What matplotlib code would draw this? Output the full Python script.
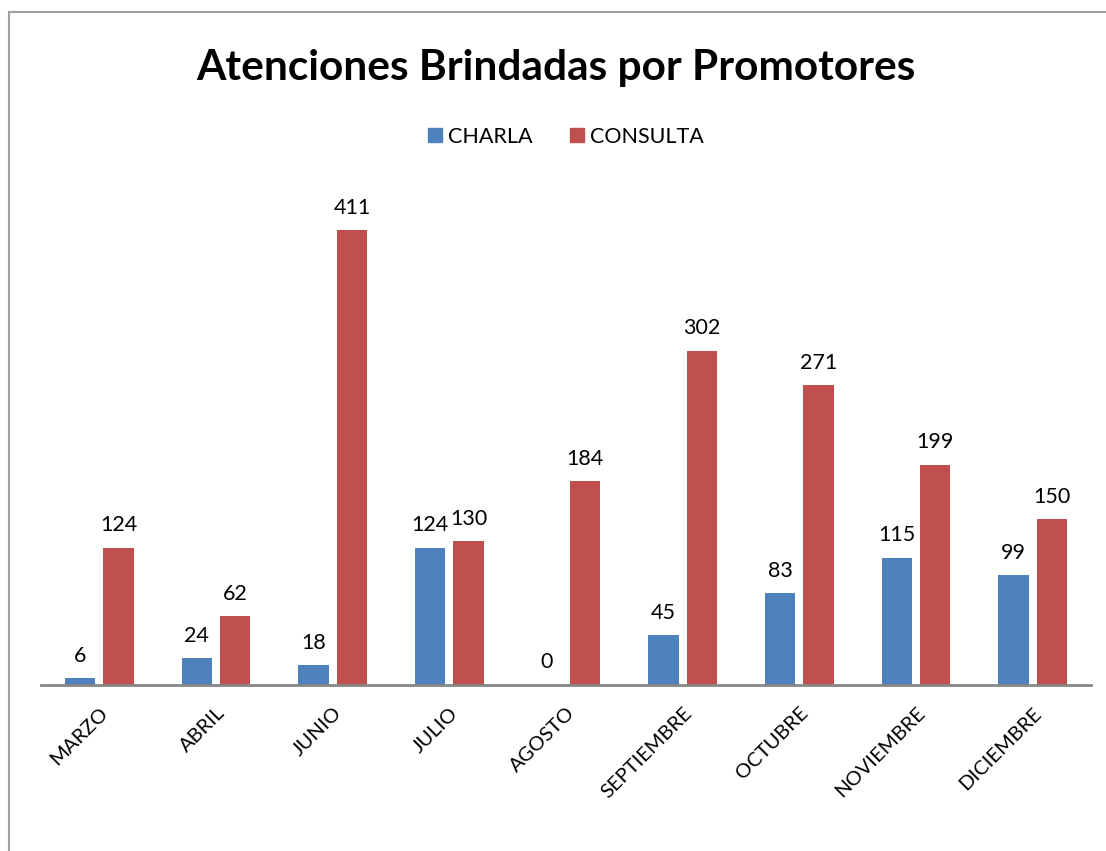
import matplotlib
matplotlib.use("Agg")
import matplotlib.pyplot as plt
from matplotlib.lines import Line2D
import numpy as np

categories = ["MARZO", "ABRIL", "JUNIO", "JULIO", "AGOSTO", "SEPTIEMBRE", "OCTUBRE", "NOVIEMBRE", "DICIEMBRE"]
charla = [6, 24, 18, 124, 0, 45, 83, 115, 99]
consulta = [124, 62, 411, 130, 184, 302, 271, 199, 150]
series_names = ["CHARLA", "CONSULTA"]
title = "Atenciones Brindadas por Promotores"

blue = "#4F81BD"
red = "#C0504D"
font = ["Lato", "DejaVu Sans"]
plt.rcParams['font.family'] = font

W, H = 1106, 851
fig = plt.figure(figsize=(W/100, H/100), dpi=100)
ax = fig.add_axes([41/W, 1-685/H, (1091-41)/W, (685-187)/H])

x = np.arange(len(categories))
bw = 0.26
gap = 0.035
b1 = ax.bar(x - bw/2 - gap, charla, bw, color=blue, label=series_names[0])
b2 = ax.bar(x + bw/2 + gap, consulta, bw, color=red, label=series_names[1])

for bars, vals in ((b1, charla), (b2, consulta)):
    for r, v in zip(bars, vals):
        ax.annotate(str(v), (r.get_x() + r.get_width()/2, v), xytext=(0, 9),
                    textcoords="offset points", ha="center", va="bottom", fontsize=15.5)

ax.set_xlim(-0.5, len(categories) - 0.5)
ax.set_ylim(0, 450)
ax.set_yticks([])
for s in ("top", "right", "left"):
    ax.spines[s].set_visible(False)
ax.spines["bottom"].set_color("#868686")
ax.spines["bottom"].set_linewidth(2)
ax.set_xticks(x)
ax.tick_params(axis="x", length=0, pad=14)
ax.set_xticklabels(categories, rotation=45, ha="right", va="top",
                   rotation_mode="anchor", fontsize=14.5)

fig.text(556/W, 1-68/H, title, ha="center", va="center", fontsize=30.5, fontweight="bold")

handles = [Line2D([], [], marker="s", linestyle="none", markersize=10.5, color=blue),
           Line2D([], [], marker="s", linestyle="none", markersize=10.5, color=red)]
fig.legend(handles, series_names, loc="center", bbox_to_anchor=(565/W, 1-137/H),
           ncol=2, frameon=False, fontsize=15.5, handletextpad=0.2, columnspacing=1.7,
           handlelength=0.8)

fig.add_artist(Line2D([9/W, 9/W], [0, 1-12/H], transform=fig.transFigure, color="#A0A0A0", linewidth=1.5))
fig.add_artist(Line2D([9/W, 1], [1-12/H, 1-12/H], transform=fig.transFigure, color="#A0A0A0", linewidth=1.5))

fig.savefig("out.png", dpi=100, facecolor="white")
